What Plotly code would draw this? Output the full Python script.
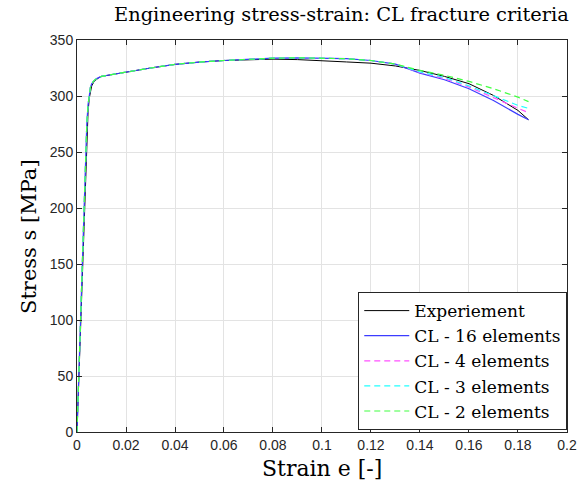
import plotly.graph_objects as go

# Experimental engineering stress-strain curve
strain_exp = [0, 0.001, 0.002, 0.003, 0.004, 0.0045, 0.005, 0.0055, 0.006, 0.007,
              0.008, 0.009, 0.01, 0.0125, 0.015, 0.02, 0.03, 0.04, 0.05, 0.06,
              0.07, 0.08, 0.09, 0.1, 0.11, 0.12, 0.13, 0.14, 0.15, 0.16,
              0.17, 0.18, 0.1843]
stress_exp = [0, 65, 135, 205, 265, 285, 298, 305, 309, 313,
              315, 316.5, 317.5, 318.5, 319.5, 321.3, 325, 328.2, 330.3, 331.7,
              332.6, 332.9, 332.5, 331.2, 330.4, 329.3, 326.8, 322.8, 317.5, 311,
              300.5, 287.1, 278.8]

# Shared simulation path (CL criterion, all meshes) up to onset of softening
strain_sim = [0, 0.001, 0.002, 0.003, 0.004, 0.0045, 0.005, 0.0055, 0.006, 0.007,
              0.008, 0.009, 0.01, 0.0125, 0.015, 0.02, 0.03, 0.04, 0.05, 0.06,
              0.07, 0.08, 0.09, 0.1, 0.11, 0.12, 0.13]
stress_sim = [0, 70, 140, 210, 275, 292, 302, 308, 311, 314,
              315.5, 316.5, 317.5, 318.5, 319.5, 321.3, 325, 328.2, 330.3, 331.7,
              332.9, 333.8, 334.1, 334.0, 333.3, 331.7, 328.5]

# Softening branch for each mesh
strain_tail = [0.14, 0.15, 0.16, 0.17, 0.18, 0.1843]
stress_tail_16 = [320.4, 314.5, 306.5, 296.0, 283.6, 278.8]
stress_tail_4 = [321.0, 315.5, 308.0, 298.5, 288.6, 285.0]
stress_tail_3 = [321.5, 316.5, 309.0, 300.5, 291.6, 289.0]
stress_tail_2 = [322.8, 318.5, 313.0, 306.5, 299.0, 295.0]

x_ticks = [0, 0.02, 0.04, 0.06, 0.08, 0.1, 0.12, 0.14, 0.16, 0.18, 0.2]
x_tick_text = ["0", "0.02", "0.04", "0.06", "0.08", "0.1", "0.12", "0.14", "0.16", "0.18", "0.2"]
y_ticks = [0, 50, 100, 150, 200, 250, 300, 350]

series = [
    ("CL - 16 elements", stress_tail_16, "#3c3cff", "solid"),
    ("CL - 4 elements", stress_tail_4, "#ff50ff", "6px,4px"),
    ("CL - 3 elements", stress_tail_3, "#20ffff", "6px,4px"),
    ("CL - 2 elements", stress_tail_2, "#40ff40", "6px,4px"),
]

SERIF = "DejaVu Serif"
SANS = "Liberation Sans"

fig = go.Figure()
fig.add_trace(go.Scatter(x=strain_exp, y=stress_exp, mode="lines",
                         name="Experiement",
                         line=dict(color="black", width=1)))
for name, tail, color, dash in series:
    fig.add_trace(go.Scatter(x=strain_sim + strain_tail, y=stress_sim + tail,
                             mode="lines", name=name,
                             line=dict(color=color, width=1.2, dash=dash)))

axis_common = dict(showline=True, linecolor="#262626", linewidth=1, mirror="ticks",
                   ticks="inside", ticklen=5, tickcolor="#262626",
                   showgrid=True, gridcolor="#e3e3e3", gridwidth=1, zeroline=False,
                   ticklabeloverflow="allow",
                   tickfont=dict(family=SANS, size=14, color="#262626"))

fig.update_layout(
    width=586, height=484,
    margin=dict(l=77, r=9, t=40, b=52),
    paper_bgcolor="white", plot_bgcolor="white",
    showlegend=True,
    legend=dict(x=0.574, y=0.357, xanchor="left", yanchor="top",
                bgcolor="white", bordercolor="#262626", borderwidth=1,
                itemwidth=45,
                font=dict(family=SERIF, size=17, color="black")),
    xaxis=dict(range=[0, 0.20001], tickvals=x_ticks, ticktext=x_tick_text, **axis_common),
    yaxis=dict(range=[0, 350], tickvals=y_ticks, **axis_common),
    annotations=[
        dict(text="Engineering stress-strain: CL fracture criteria", xref="paper", yref="paper",
             x=0.54, y=1.064, xanchor="center", yanchor="middle", showarrow=False,
             font=dict(family=SERIF, size=19.4, color="black")),
        dict(text="Strain e [-]", xref="paper", yref="paper",
             x=0.5, y=-0.092, xanchor="center", yanchor="middle", showarrow=False,
             font=dict(family=SERIF, size=22, color="black")),
        dict(text="Stress s [MPa]", xref="paper", yref="paper", textangle=-90,
             x=-0.098, y=0.5, xanchor="center", yanchor="middle", showarrow=False,
             font=dict(family=SERIF, size=21, color="black")),
    ],
)

fig.write_html("out.html")
